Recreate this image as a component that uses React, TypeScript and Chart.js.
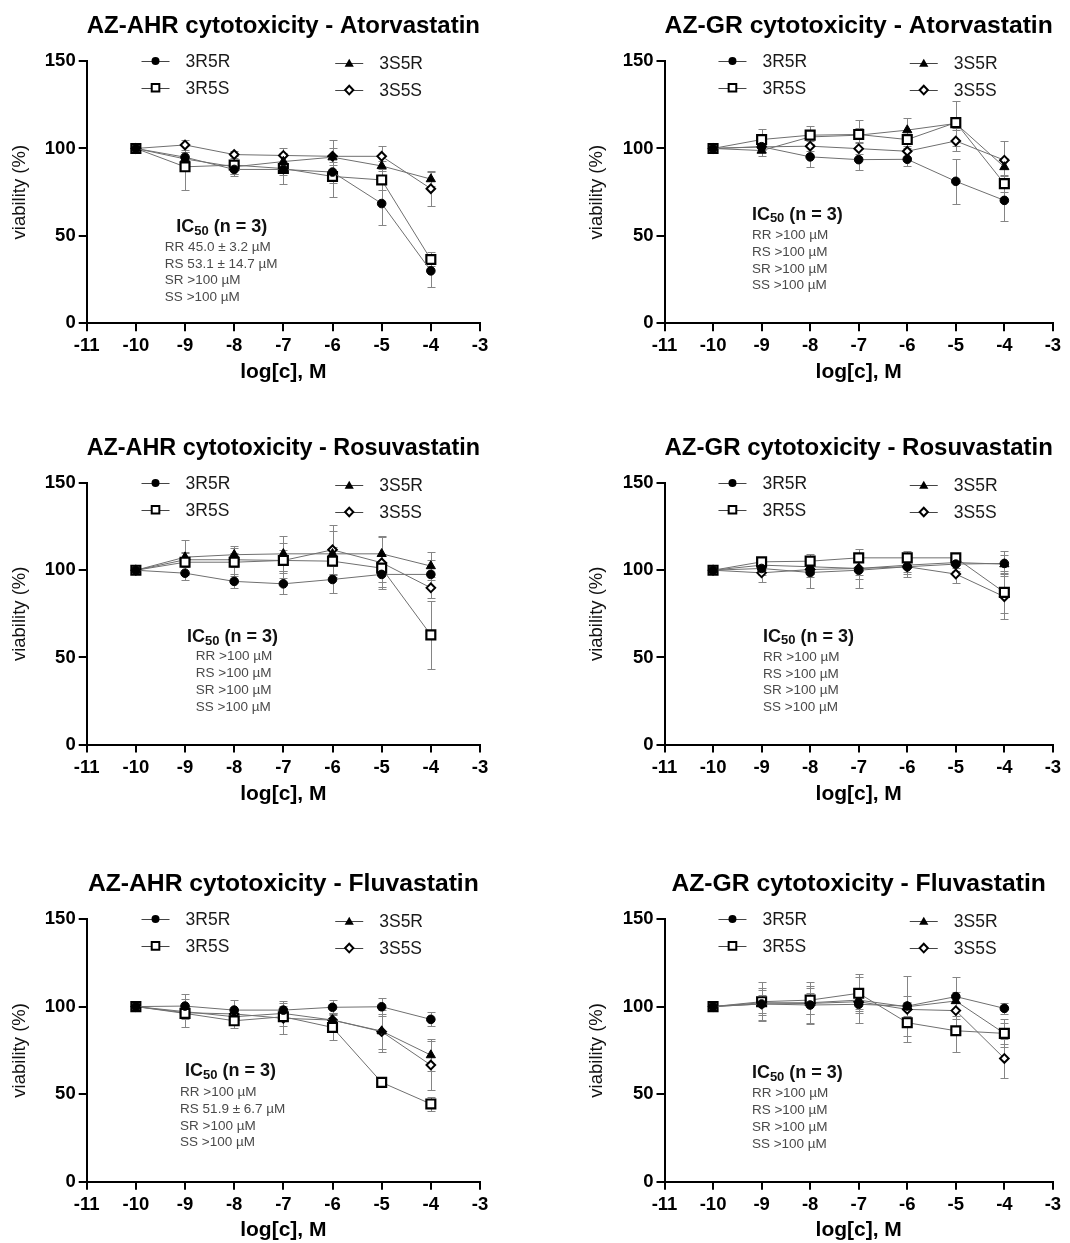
import React, { useEffect, useRef } from "react";
import { Chart, registerables } from "chart.js";

Chart.register(...registerables);

const FONT = "'Liberation Sans', Arial, Helvetica, sans-serif";

// ---------------- data ----------------
const logConcentrations = [-10, -9, -8, -7, -6, -5, -4];
const seriesLabels = ["3R5R", "3R5S", "3S5R", "3S5S"];
const xTickValues = [-11, -10, -9, -8, -7, -6, -5, -4, -3];
const yTickValues = [0, 50, 100, 150];

// rows: 3R5R, 3R5S, 3S5R, 3S5S
const ahrAtorvastatinMean = [
  [100, 95, 88, 88, 86.5, 68.5, 30],
  [100, 89.5, 90.5, 88.5, 84, 82, 36.5],
  [100, 94, 89.5, 92.5, 95, 90, 82.5],
  [100, 102, 96.5, 96, 95.5, 95.5, 77],
];
const ahrAtorvastatinErr = [
  [0, 3, 4, 3, 6, 12, 9],
  [0, 13, 5, 9, 12, 6, 4],
  [0, 4, 4, 4, 10, 3, 4],
  [0, 3, 2, 4.5, 5, 6, 10],
];
const ahrAtorvastatinIC50 = ["RR 45.0 ± 3.2 µM", "RS 53.1 ± 14.7 µM", "SR >100 µM", "SS >100 µM"];

const grAtorvastatinMean = [
  [100, 101, 95.2, 93.6, 93.8, 81.2, 70.3],
  [100, 105.1, 107.6, 108, 105.1, 114.8, 79.9],
  [100, 98.8, 106.6, 107.6, 110.5, 114.3, 89.4],
  [100, 100.9, 101.3, 99.9, 98.4, 104.3, 93.3],
];
const grAtorvastatinErr = [
  [0, 3, 6, 6, 4, 13, 12],
  [0, 6, 5, 8, 5, 3, 5],
  [0, 3, 4, 4, 7, 13, 5],
  [0, 3, 3, 3, 3, 6, 11],
];
const grAtorvastatinIC50 = ["RR >100 µM", "RS >100 µM", "SR >100 µM", "SS >100 µM"];

const ahrRosuvastatinMean = [
  [100, 98.3, 93.6, 92.2, 94.7, 97.6, 97.6],
  [100, 104.6, 104.6, 105.6, 105.2, 101.2, 62.9],
  [100, 107.5, 108.9, 109.4, 109.4, 109.4, 102.4],
  [100, 106, 106, 105.6, 111.7, 104.3, 89.9],
];
const ahrRosuvastatinErr = [
  [0, 4, 4, 6, 8, 7, 8],
  [0, 6, 8, 10, 8, 8, 19.5],
  [0, 10, 5, 10, 13, 10, 8],
  [0, 4, 4, 6, 14, 15, 6],
];
const ahrRosuvastatinIC50 = ["RR >100 µM", "RS >100 µM", "SR >100 µM", "SS >100 µM"];

const grRosuvastatinMean = [
  [100, 101, 98.7, 100, 102, 103.5, 103.9],
  [100, 104.8, 105.2, 107.1, 107.1, 107.1, 87.3],
  [100, 102.9, 102, 101, 102.9, 104.4, 103.5],
  [100, 98.5, 100.4, 101, 102, 97.8, 84.8],
];
const grRosuvastatinErr = [
  [0, 4, 9, 10, 6, 4, 7],
  [0, 3, 4, 5, 4, 3, 12],
  [0, 3, 4, 4, 4, 3, 5],
  [0, 5, 4, 6, 4, 5, 13],
];
const grRosuvastatinIC50 = ["RR >100 µM", "RS >100 µM", "SR >100 µM", "SS >100 µM"];

const ahrFluvastatinMean = [
  [100, 100.3, 98, 98, 99.6, 99.9, 92.7],
  [100, 96.1, 91.9, 94.2, 88.1, 56.7, 44.4],
  [100, 97.1, 94.2, 96.1, 92.3, 86, 72.3],
  [100, 96.5, 95.8, 93.3, 92.3, 85.7, 66.6],
];
const ahrFluvastatinErr = [
  [0, 7, 6, 5, 4, 5, 4],
  [0, 8, 4, 5, 7, 2, 4],
  [0, 4, 3, 4, 4, 12, 9],
  [0, 3, 3, 9, 4, 10, 14],
];
const ahrFluvastatinIC50 = ["RR >100 µM", "RS 51.9 ± 6.7 µM", "SR >100 µM", "SS >100 µM"];

const grFluvastatinMean = [
  [100, 101.5, 100.9, 101.3, 100.3, 105.7, 99],
  [100, 102.8, 103.7, 107.6, 90.8, 86.2, 84.7],
  [100, 102.2, 102.2, 103.7, 99.9, 103.2, 84.7],
  [100, 101.5, 101.8, 102.8, 98.4, 97.7, 70.4],
];
const grFluvastatinErr = [
  [0, 5, 10, 4, 17, 11, 3],
  [0, 11, 8, 11, 11, 12, 6],
  [0, 7, 12, 13, 6, 5, 8],
  [0, 9, 6, 4, 4, 5, 11],
];
const grFluvastatinIC50 = ["RR >100 µM", "RS >100 µM", "SR >100 µM", "SS >100 µM"];

// ---------------- layout ----------------
const CANVAS_W = 535;
const CANVAS_H = 385;
const colLayout = [
  { left: 0, padL: 0, padR: 55 },
  { left: 535, padL: 42.8, padR: 17.1 },
];
const rowLayout = [
  { top: 0, plotBottom: 323.3 },
  { top: 422, plotBottom: 322.6 },
  { top: 858, plotBottom: 323.7 },
];

const panels = [
  { title: "AZ-AHR cytotoxicity - Atorvastatin", mean: ahrAtorvastatinMean, err: ahrAtorvastatinErr, ic50: ahrAtorvastatinIC50, col: 0, row: 0, icTitle: [-9.18, 55.1], icLines: [-9.41, 43.7] },
  { title: "AZ-GR cytotoxicity - Atorvastatin", mean: grAtorvastatinMean, err: grAtorvastatinErr, ic50: grAtorvastatinIC50, col: 1, row: 0, icTitle: [-9.2, 62.0], icLines: [-9.2, 50.5] },
  { title: "AZ-AHR cytotoxicity - Rosuvastatin", mean: ahrRosuvastatinMean, err: ahrRosuvastatinErr, ic50: ahrRosuvastatinIC50, col: 0, row: 1, icTitle: [-8.96, 61.6], icLines: [-8.78, 50.7] },
  { title: "AZ-GR cytotoxicity - Rosuvastatin", mean: grRosuvastatinMean, err: grRosuvastatinErr, ic50: grRosuvastatinIC50, col: 1, row: 1, icTitle: [-8.97, 61.8], icLines: [-8.97, 50.3] },
  { title: "AZ-AHR cytotoxicity - Fluvastatin", mean: ahrFluvastatinMean, err: ahrFluvastatinErr, ic50: ahrFluvastatinIC50, col: 0, row: 2, icTitle: [-9.0, 63.2], icLines: [-9.1, 51.2] },
  { title: "AZ-GR cytotoxicity - Fluvastatin", mean: grFluvastatinMean, err: grFluvastatinErr, ic50: grFluvastatinIC50, col: 1, row: 2, icTitle: [-9.2, 62.0], icLines: [-9.2, 50.6] },
];

const pointStyles = ["circle", "rect", "triangle", "rectRot"];
const pointRadii = [4.3, 6.3, 5.3, 4.3];
const pointFills = ["#000", "#fff", "#000", "#fff"];
const pointBorders = [1, 2.2, 1, 2];
const LINE_COLOR = "#6f6f6f";
const ERR_COLOR = "#858585";

// legend anchors (data coords of marker): [x, y] per series
const legendAnchors = [
  [-9.6, 150],
  [-9.6, 134.7],
  [-5.66, 148.7],
  [-5.66, 133.4],
];

// ---------------- plugins ----------------
const errorBarPlugin = {
  id: "errorBars",
  beforeDatasetsDraw(chart: any) {
    const { ctx } = chart;
    const xs = chart.scales.x;
    const ys = chart.scales.y;
    ctx.save();
    ctx.strokeStyle = ERR_COLOR;
    ctx.lineWidth = 1;
    chart.data.datasets.forEach((ds: any) => {
      ds.data.forEach((p: any, i: number) => {
        const e = ds.errors[i];
        if (!e) return;
        const px = Math.round(xs.getPixelForValue(p.x)) + 0.5;
        const top = Math.round(ys.getPixelForValue(p.y + e)) + 0.5;
        const bot = Math.round(ys.getPixelForValue(p.y - e)) + 0.5;
        ctx.beginPath();
        ctx.moveTo(px, top);
        ctx.lineTo(px, bot);
        ctx.moveTo(px - 4, top);
        ctx.lineTo(px + 4, top);
        ctx.moveTo(px - 4, bot);
        ctx.lineTo(px + 4, bot);
        ctx.stroke();
      });
    });
    ctx.restore();
  },
};

function drawLegendMarker(ctx: CanvasRenderingContext2D, s: number, x: number, y: number) {
  ctx.save();
  ctx.strokeStyle = "#000";
  ctx.fillStyle = "#000";
  ctx.beginPath();
  if (s === 0) {
    ctx.arc(x, y, 4, 0, Math.PI * 2);
    ctx.fill();
  } else if (s === 1) {
    ctx.fillStyle = "#fff";
    ctx.lineWidth = 2;
    ctx.rect(x - 3.8, y - 3.8, 7.6, 7.6);
    ctx.fill();
    ctx.stroke();
  } else if (s === 2) {
    ctx.moveTo(x, y - 4.5);
    ctx.lineTo(x + 4.6, y + 3.4);
    ctx.lineTo(x - 4.6, y + 3.4);
    ctx.closePath();
    ctx.fill();
  } else {
    ctx.fillStyle = "#fff";
    ctx.lineWidth = 2;
    ctx.moveTo(x, y - 4.3);
    ctx.lineTo(x + 4.1, y);
    ctx.lineTo(x, y + 4.3);
    ctx.lineTo(x - 4.1, y);
    ctx.closePath();
    ctx.fill();
    ctx.stroke();
  }
  ctx.restore();
}

const panelTextPlugin = {
  id: "panelText",
  afterDraw(chart: any, _args: any, opts: any) {
    const { ctx } = chart;
    const xs = chart.scales.x;
    const ys = chart.scales.y;
    ctx.save();
    // legend
    seriesLabels.forEach((label, s) => {
      const mx = xs.getPixelForValue(legendAnchors[s][0]);
      const my = ys.getPixelForValue(legendAnchors[s][1]);
      ctx.strokeStyle = "#444";
      ctx.lineWidth = 1;
      ctx.beginPath();
      ctx.moveTo(mx - 14, Math.round(my) + 0.5);
      ctx.lineTo(mx + 14, Math.round(my) + 0.5);
      ctx.stroke();
      drawLegendMarker(ctx, s, mx, my);
      ctx.fillStyle = "#1a1a1a";
      ctx.font = `17.5px ${FONT}`;
      ctx.textAlign = "left";
      ctx.textBaseline = "middle";
      ctx.fillText(label, mx + 30, my + 1);
    });
    // IC50 block
    const tx = xs.getPixelForValue(opts.icTitle[0]);
    const ty = ys.getPixelForValue(opts.icTitle[1]);
    ctx.fillStyle = "#111";
    ctx.textAlign = "left";
    ctx.textBaseline = "middle";
    ctx.font = `bold 18px ${FONT}`;
    ctx.fillText("IC", tx, ty);
    let cx = tx + ctx.measureText("IC").width;
    ctx.font = `bold 13px ${FONT}`;
    ctx.fillText("50", cx, ty + 4);
    cx += ctx.measureText("50").width;
    ctx.font = `bold 18px ${FONT}`;
    ctx.fillText(" (n = 3)", cx, ty);
    const lx = xs.getPixelForValue(opts.icLines[0]);
    const ly = ys.getPixelForValue(opts.icLines[1]);
    ctx.fillStyle = "#4a4a4a";
    ctx.font = `13.5px ${FONT}`;
    opts.lines.forEach((t: string, i: number) => {
      ctx.fillText(t, lx, ly + i * 16.9);
    });
    ctx.restore();
  },
};

// ---------------- components ----------------
function Panel({ cfg }: { cfg: any }) {
  const ref = useRef<HTMLCanvasElement>(null);
  const col = colLayout[cfg.col];
  const row = rowLayout[cfg.row];

  useEffect(() => {
    if (!ref.current) return;
    const chart = new Chart(ref.current, {
      type: "line",
      data: {
        datasets: seriesLabels.map((label, s) => ({
          label,
          data: logConcentrations.map((x, i) => ({ x, y: cfg.mean[s][i] })),
          errors: cfg.err[s],
          borderColor: LINE_COLOR,
          borderWidth: 1,
          pointStyle: pointStyles[s],
          pointRadius: pointRadii[s],
          pointBackgroundColor: pointFills[s],
          pointBorderColor: "#000",
          pointBorderWidth: pointBorders[s],
          fill: false,
          tension: 0,
          clip: false,
        })) as any,
      },
      options: {
        responsive: false,
        animation: false,
        events: [],
        layout: { padding: { left: col.padL, right: col.padR, top: 0, bottom: 0 } },
        plugins: {
          legend: { display: false },
          tooltip: { enabled: false },
          title: {
            display: true,
            text: cfg.title,
            fullSize: false,
            color: "#000",
            font: { family: FONT, size: 24.7, weight: "bold", lineHeight: 1.2 },
            padding: { top: 11.8, bottom: 19.6 },
          },
          panelText: { icTitle: cfg.icTitle, icLines: cfg.icLines, lines: cfg.ic50 },
        } as any,
        scales: {
          x: {
            type: "linear",
            min: -11,
            max: -3,
            afterBuildTicks: (s: any) => {
              s.ticks = xTickValues.map((v) => ({ value: v }));
            },
            afterFit: (s: any) => {
              s.height = CANVAS_H - row.plotBottom;
            },
            ticks: {
              color: "#000",
              font: { family: FONT, size: 18.5, weight: "bold" },
              padding: 4,
              maxRotation: 0,
              autoSkip: false,
              callback: (v: any) => String(v),
            },
            grid: { display: true, drawOnChartArea: false, drawTicks: true, tickLength: 8, lineWidth: 2, color: "#000" },
            border: { display: true, color: "#000", width: 2 },
            title: {
              display: true,
              text: "log[c], M",
              color: "#000",
              font: { family: FONT, size: 21, weight: "bold", lineHeight: 1.2 },
              padding: { top: 0, bottom: 0 },
            },
          },
          y: {
            min: 0,
            max: 150,
            afterBuildTicks: (s: any) => {
              s.ticks = yTickValues.map((v) => ({ value: v }));
            },
            afterFit: (s: any) => {
              s.width = 86.7;
            },
            ticks: {
              color: "#000",
              font: { family: FONT, size: 18.5, weight: "bold" },
              padding: 3,
              callback: (v: any) => String(v),
            },
            grid: { display: true, drawOnChartArea: false, drawTicks: true, tickLength: 8, lineWidth: 2, color: "#000" },
            border: { display: true, color: "#000", width: 2 },
            title: {
              display: true,
              text: "viability (%)",
              color: "#111",
              font: { family: FONT, size: 18.5, lineHeight: 1.2 },
              padding: { top: 8.5, bottom: 0 },
            },
          },
        },
      } as any,
      plugins: [errorBarPlugin, panelTextPlugin] as any,
    });
    return () => chart.destroy();
  }, []);

  return (
    <canvas
      ref={ref}
      width={CANVAS_W}
      height={CANVAS_H}
      style={{ position: "absolute", left: col.left, top: row.top, width: CANVAS_W, height: CANVAS_H }}
    />
  );
}

export default function App() {
  return (
    <div
      style={{
        position: "absolute",
        left: 0,
        top: 0,
        width: 1070,
        height: 1243,
        overflow: "hidden",
        background: "#fff",
      }}
    >
      {panels.map((p, i) => (
        <Panel key={i} cfg={p} />
      ))}
    </div>
  );
}
